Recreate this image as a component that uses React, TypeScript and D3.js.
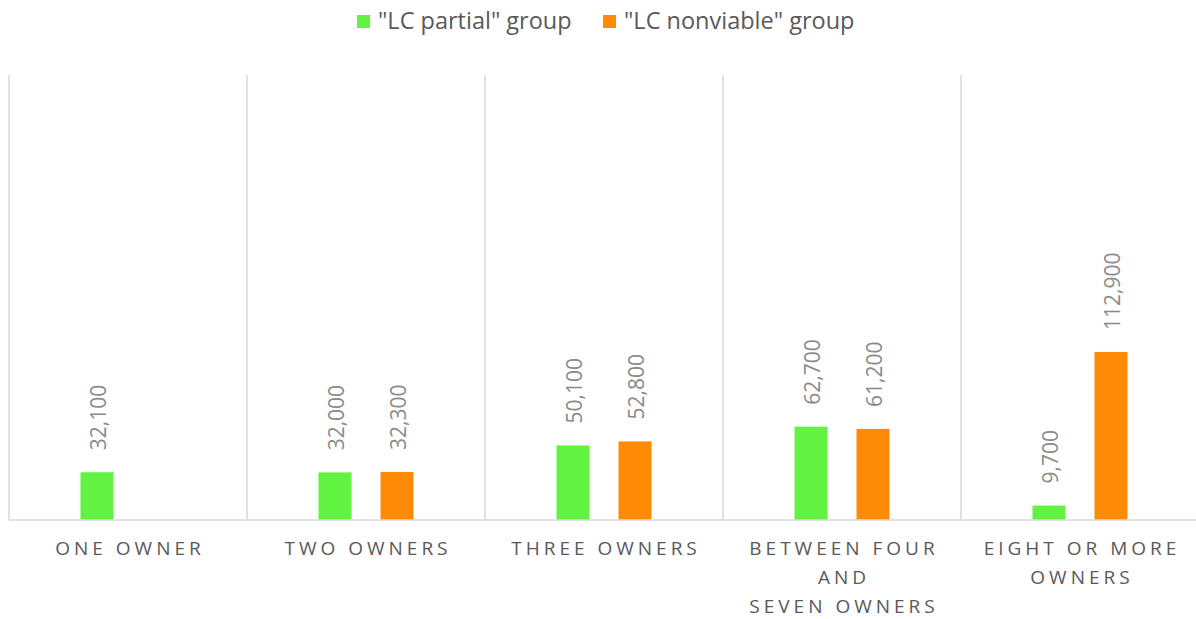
import React from "react";
import * as d3 from "d3";

const categories: string[][] = [
  ["ONE OWNER"],
  ["TWO OWNERS"],
  ["THREE OWNERS"],
  ["BETWEEN FOUR", "AND", "SEVEN OWNERS"],
  ["EIGHT OR MORE", "OWNERS"],
];
const seriesNames = ['"LC partial" group', '"LC nonviable" group'];
const seriesColors = ["#62f242", "#ff8a05"];
const partial: (number | null)[] = [32100, 32000, 50100, 62700, 9700];
const nonviable: (number | null)[] = [null, 32300, 52800, 61200, 112900];

const W = 1196;
const H = 619;
const FONT = "'Open Sans', 'Noto Sans', sans-serif";

export default function App() {
  const left = 9;
  const right = 1199;
  const top = 75;
  const bottom = 520;
  const x = d3.scaleBand<number>().domain(d3.range(categories.length)).range([left, right]);
  const y = d3.scaleLinear().domain([0, 299000]).range([bottom, top]);
  const series = [partial, nonviable];
  const barW = 33;
  const offsets = [-31, 31];
  const fmt = d3.format(",");
  return (
    <svg width={W} height={H} style={{ position: "absolute", left: 0, top: 0, background: "#fff" }}>
      {d3.range(categories.length + 1).map((i) => {
        const xx = i < categories.length ? x(i)! : right;
        return <line key={i} x1={xx} x2={xx} y1={top} y2={bottom} stroke="#d9d9d9" strokeWidth={1.5} />;
      })}
      {series.map((vals, s) =>
        vals.map((v, i) => {
          if (v == null) return null;
          const cx = x(i)! + x.bandwidth() / 2 + offsets[s];
          const yt = y(v);
          return (
            <g key={`${s}-${i}`}>
              <rect x={cx - barW / 2} y={yt} width={barW} height={bottom - yt} fill={seriesColors[s]} />
              <text
                transform={`translate(${cx + 9},${yt - 22}) rotate(-90)`}
                fontFamily={FONT}
                fontSize={21}
                fill="#8a8a8a"
              >
                {fmt(v)}
              </text>
            </g>
          );
        })
      )}
      <line x1={left} x2={W} y1={bottom} y2={bottom} stroke="#d9d9d9" strokeWidth={1.5} />
      {categories.map((lines, i) => (
        <text key={i} textAnchor="middle" fontFamily={FONT} fontSize={19} fill="#595959" letterSpacing={4}>
          {lines.map((l, j) => (
            <tspan key={j} x={x(i)! + x.bandwidth() / 2 + 2} y={555 + j * 29}>
              {l}
            </tspan>
          ))}
        </text>
      ))}
      {seriesNames.map((n, s) => {
        const lx = [357, 603][s];
        return (
          <g key={n}>
            <rect x={lx} y={15} width={13} height={13} fill={seriesColors[s]} />
            <text x={lx + 21} y={29} fontFamily={FONT} fontSize={23.5} fill="#595959">
              {n}
            </text>
          </g>
        );
      })}
    </svg>
  );
}
